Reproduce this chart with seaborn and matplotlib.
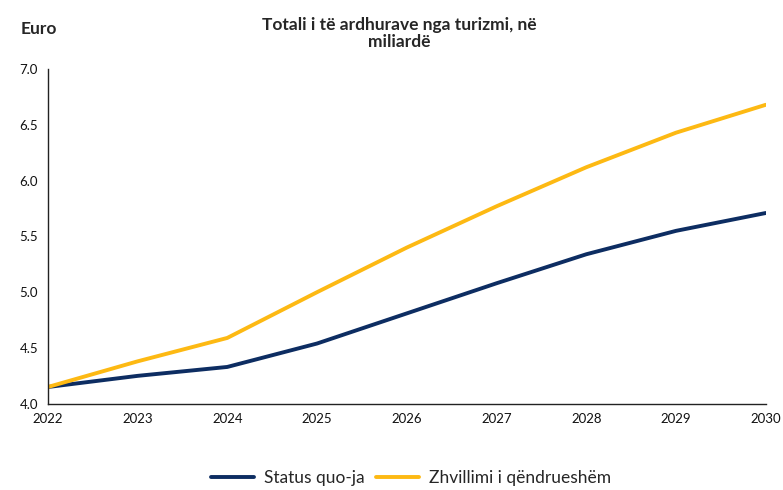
import matplotlib
matplotlib.use("Agg")
import matplotlib.pyplot as plt
import seaborn as sns
import pandas as pd

years = [2022, 2023, 2024, 2025, 2026, 2027, 2028, 2029, 2030]
status_quo = [4.15, 4.25, 4.33, 4.54, 4.81, 5.08, 5.34, 5.55, 5.71]
zhvillimi = [4.15, 4.38, 4.59, 5.00, 5.40, 5.77, 6.12, 6.43, 6.68]
series_names = ["Status quo-ja", "Zhvillimi i qëndrueshëm"]
colors = ["#0d2d62", "#fdb913"]
yticks = [4.0, 4.5, 5.0, 5.5, 6.0, 6.5, 7.0]

df = pd.DataFrame({
    "Viti": years * 2,
    "Vlera": status_quo + zhvillimi,
    "Seria": [series_names[0]] * len(years) + [series_names[1]] * len(years),
})

sns.set_theme(style="white")
plt.rcParams["font.family"] = ["Lato", "DejaVu Sans"]

fig = plt.figure(figsize=(7.83, 4.90), dpi=100)
ax = fig.add_axes([0.061, 0.176, 0.917, 0.683])

sns.lineplot(data=df, x="Viti", y="Vlera", hue="Seria", palette=colors,
             linewidth=2.8, ax=ax, legend=True)

ax.set_xlim(2022, 2030)
ax.set_ylim(4.0, 7.0)
ax.set_xticks(years)
ax.set_xticklabels([str(y) for y in years])
ax.set_yticks(yticks)
ax.set_yticklabels([f"{v:.1f}" for v in yticks])
ax.set_xlabel("")
ax.set_ylabel("")
for s in ["top", "right"]:
    ax.spines[s].set_visible(False)
for s in ["left", "bottom"]:
    ax.spines[s].set_color("#222222")
    ax.spines[s].set_linewidth(1.0)
ax.tick_params(axis="both", which="major", direction="out", length=4, width=1,
               color="#222222", labelsize=9.5, labelcolor="#111111", pad=3)
ax.grid(False)

fig.text(0.51, 0.965, "Totali i të ardhurave nga turizmi, në\nmiliardë",
         ha="center", va="top", fontsize=12.5, fontweight="bold", linespacing=1.05)
fig.text(0.026, 0.94, "Euro", ha="left", va="center", fontsize=12.5, fontweight="bold")

handles, labels = ax.get_legend_handles_labels()
ax.legend_.remove()
fig.legend(handles, labels, loc="center", bbox_to_anchor=(0.525, 0.025), ncol=2,
           frameon=False, fontsize=12.5, handlelength=2.5, columnspacing=0.6,
           handletextpad=0.6)

fig.savefig("out.png", dpi=100)
